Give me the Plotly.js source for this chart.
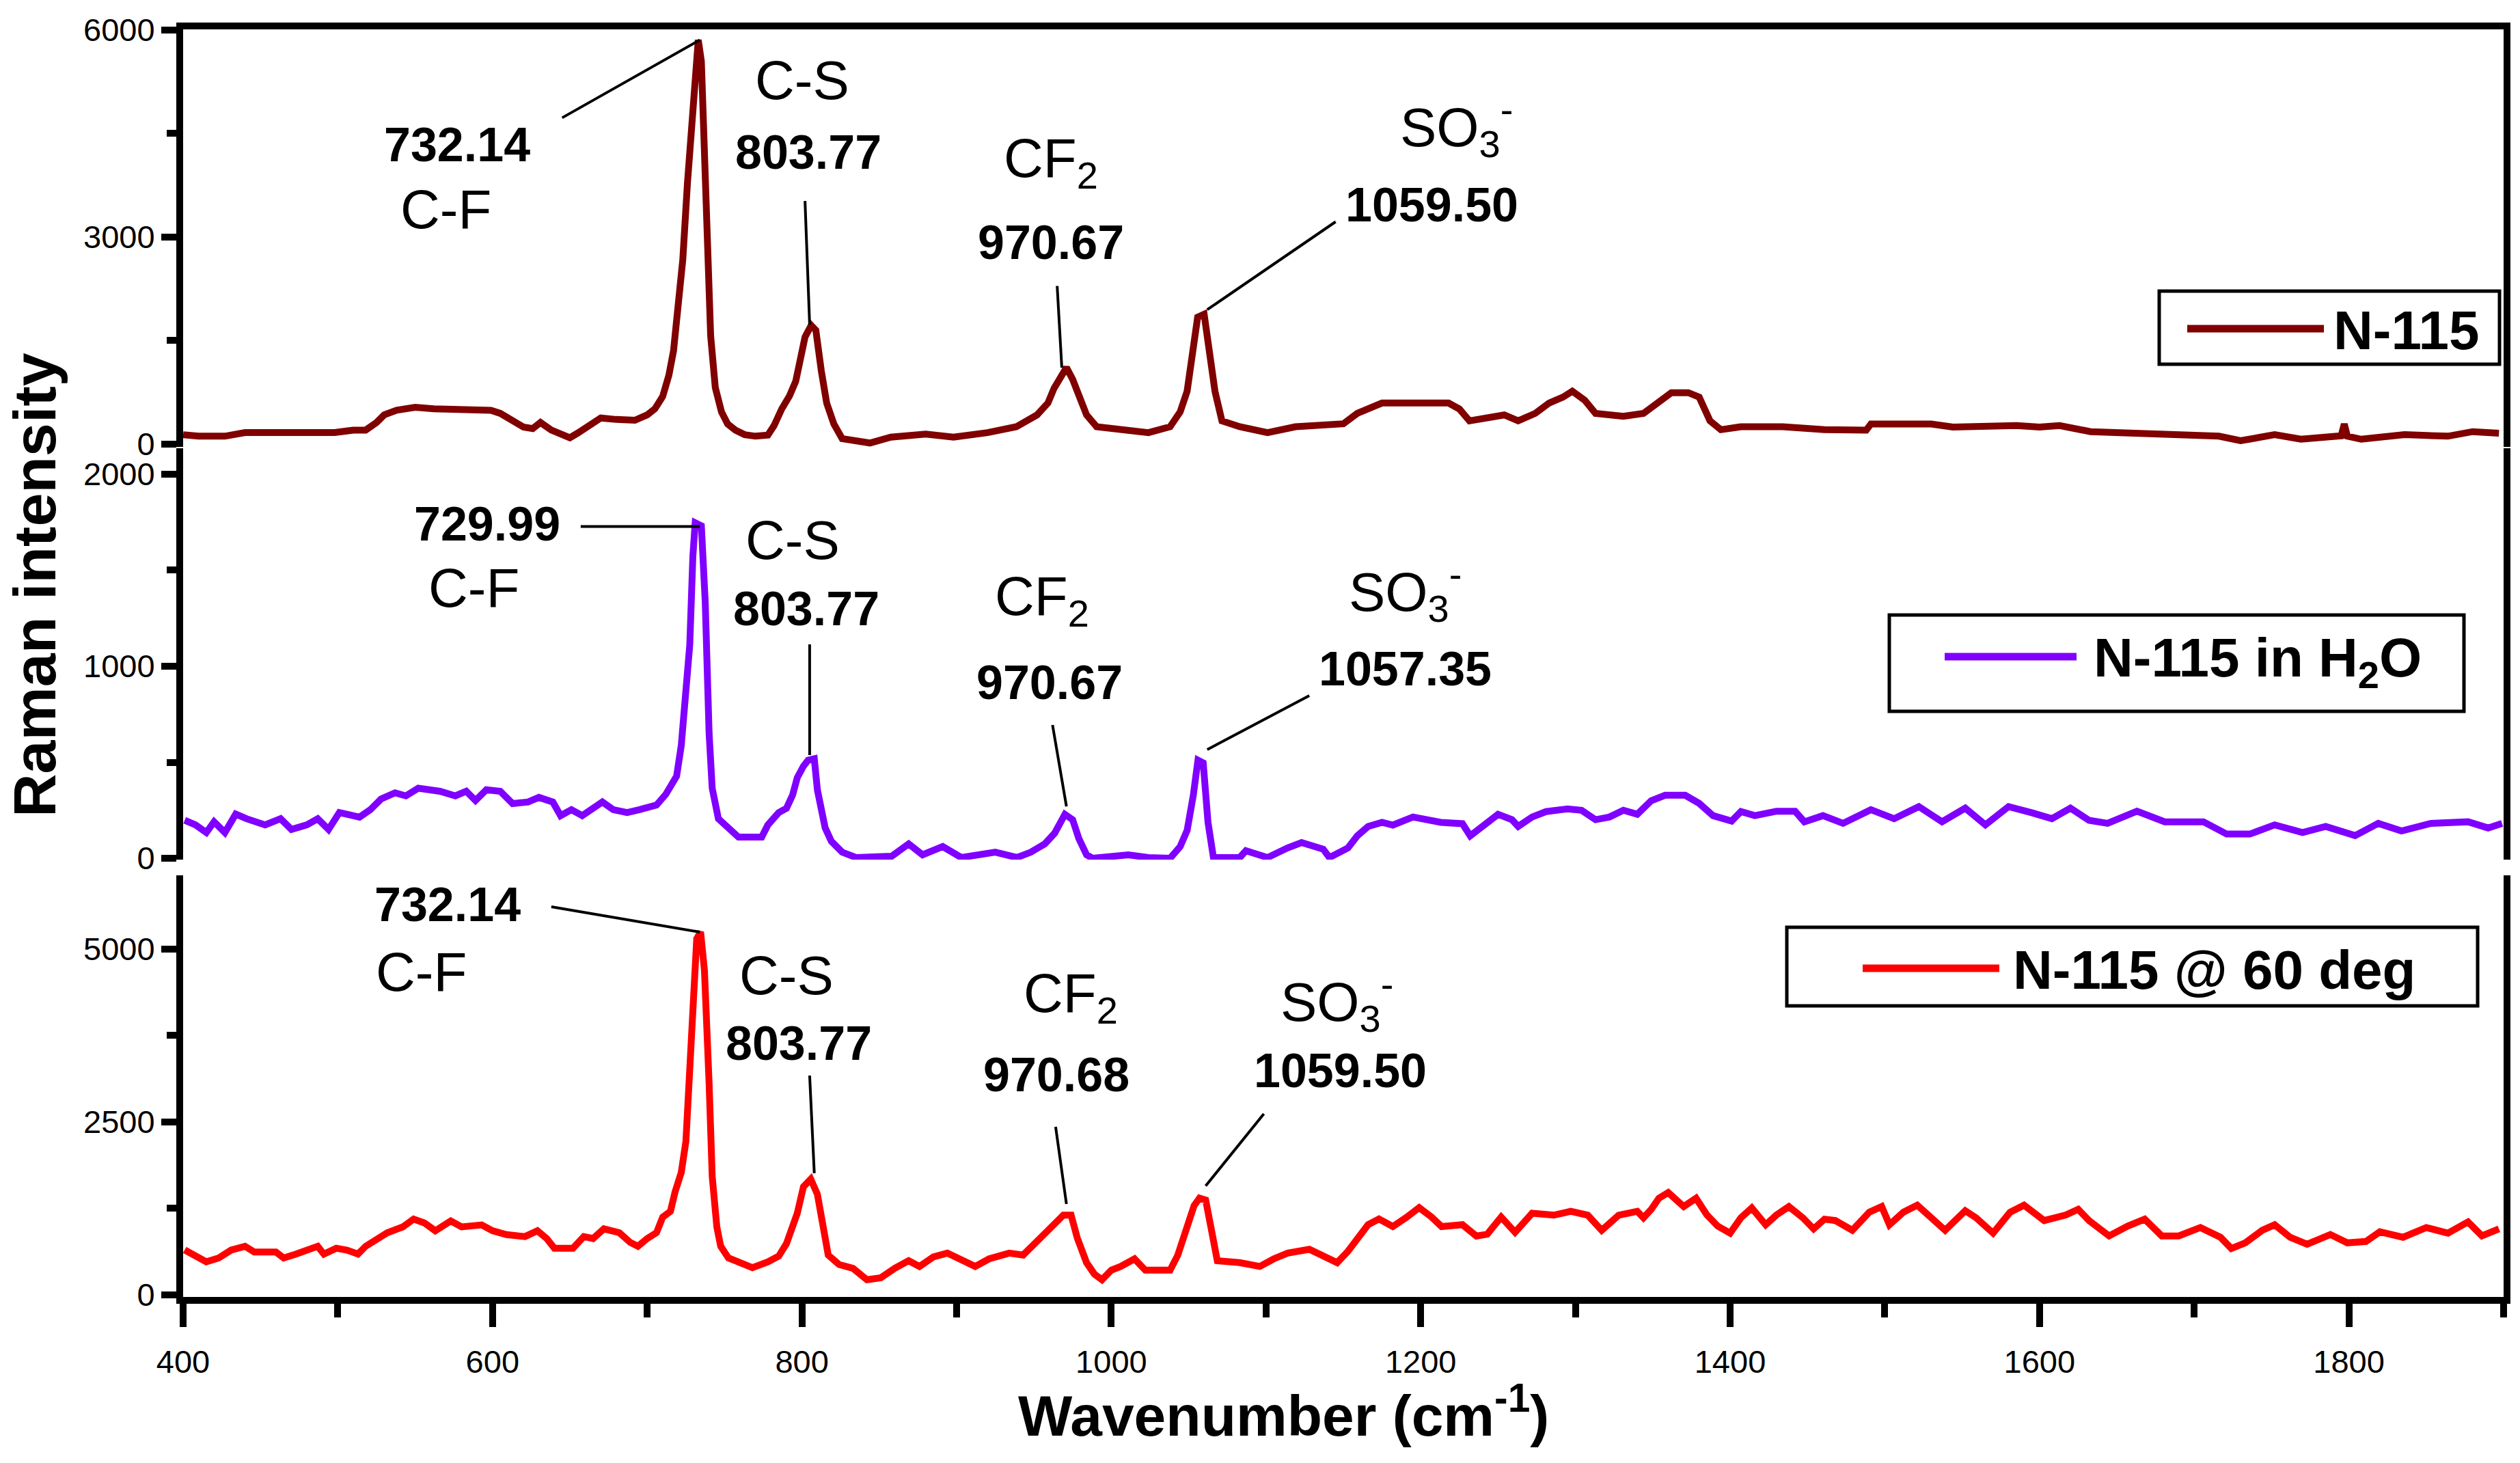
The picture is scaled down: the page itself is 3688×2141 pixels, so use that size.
<!DOCTYPE html>
<html>
<head>
<meta charset="utf-8">
<script src="https://cdn.plot.ly/plotly-3.0.1.min.js"></script>
<style>html,body{margin:0;padding:0;background:#fff;}</style>
</head>
<body>
<div id="chart" style="width:3688px;height:2141px;"></div>
<script>
// ---------- data ----------
const seriesNames = ["N-115", "N-115 in H<sub>2</sub>O", "N-115 @ 60 deg"];

// N-115 (top panel)
const wnTop = [400,410,427,440,470,498,510,518,525,530,538,550,562,580,599,605,612,620,626,631,638,645,650,655,662,670,680,692,700,705,710,714,717,720,723,726,729,731,733,735,737,739,741,744,748,752,757,763,770,778,782,787,792,796,799,802,806,809,812.5,816,820.6,826,844,857.5,880,898,920,938.6,952,959,963,968,971,975,979,984,990.5,1002,1024,1038,1044.5,1049,1052.6,1055.8,1060,1064,1067,1071.5,1083,1101,1119,1150,1159,1168,1175,1218,1225,1231.5,1245,1254,1263,1274,1283,1292,1298,1306,1313,1331,1344,1353,1362,1373,1380,1387,1394,1407,1434,1461,1474,1488,1491,1530,1544,1585,1600,1613,1633,1669,1683,1716,1730,1752,1769,1795,1797,1799,1808,1836,1864,1880,1897];
const intTop = [137,115,115,168,168,168,203,203,313,424,490,534,512,490,490,446,357,247,225,313,203,137,93,159,269,379,357,346,424,512,690,997,1350,2012,2673,3778,4660,5544,5852,5544,4218,2894,1571,820,468,291,203,137,115,130,269,512,700,909,1218,1550,1720,1650,1066,595,295,80,16,102,145,102,166,252,423,595,809,1023,1109,938,681,423,252,230,166,252,466,766,1281,1838,1881,1281,766,337,252,166,252,295,445,530,595,595,509,337,380,423,337,445,595,681,766,637,445,402,445,595,745,745,681,337,209,252,252,209,203,203,291,291,247,269,247,269,181,159,137,115,49,137,71,120,291,115,71,137,115,181,159];

// N-115 in H2O (middle panel)
const wnMid = [401,408,415,420,427,434,441,453,463,470,480,487,494,501,514,521,528,537,544,552,566,576,583,589,596,605,613,623,630,639,644,651,658,665,671,678,687,695,706,712,719,722,725,727.5,729.5,731,735,737.5,740,742,746,752,759,774,778,785,790,794,797,801,804,808,810,815,819,826,835,858,869,878,891,903,925,939,948,957,963.4,970,975,979,984,988,1000,1011,1024,1038,1044.5,1049,1053,1056,1059.4,1062.5,1066,1083,1087,1101,1114,1123,1137,1141,1153,1159,1166,1175,1182,1195,1213,1227,1232,1241,1250,1259,1263,1272,1281,1295,1304,1313,1322,1331,1340,1349,1358,1371,1380,1389,1401,1407,1416,1430,1442,1448,1460,1473,1491,1506,1522,1537,1552,1565,1580,1595,1608,1620,1632,1644,1663,1681,1706,1721,1736,1752,1770,1785,1804,1819,1834,1853,1877,1890,1899];
const intMid = [198,174,134,190,134,230,206,174,206,150,174,206,150,238,214,253,309,341,325,365,349,325,349,301,357,349,285,293,317,293,222,253,222,261,293,253,238,253,277,333,428,587,825,1111,1572,1747,1731,1334,651,365,206,158,110,110,174,238,260,330,420,480,511,518,356,159,89,32,4,11,75,18,61,4,32,4,32,75,131,229,201,103,18,0,5,18,4,0,61,145,328,511,497,187,4,4,39,4,54,82,47,4,54,117,166,187,173,215,187,180,117,173,229,201,166,215,243,257,250,201,215,250,229,300,328,328,286,222,194,243,222,245,245,190,222,182,253,206,269,190,261,174,269,237,206,261,198,182,245,190,190,126,126,174,134,166,118,182,142,182,190,158,182];

// N-115 @ 60 deg (bottom panel)
const wnBot = [401,410,415,423,431,440,446,460,465,473,480,487,491,499,506,513,518,525,532,542,549,556,563,573,580,593,600,609,621,629,635,640,652,659,665,672,682,689,694,700,706,710,715,718,722,725,727,729.5,732,734.5,737,740,742,745,747.5,752.5,761,768,778,785,790,797,801,805.7,810,814,817,824,833,842,851,860,869,876,885,894,903,912,921,934,943,950,957,963.4,969,974,978,984,989,994,1000,1006,1015,1022,1038,1043,1049,1053.5,1057,1061,1065,1068.5,1083,1096,1105,1114,1128,1137,1146,1153,1159,1166,1173,1182,1191,1199,1207,1213.5,1227,1236,1243,1252,1261,1272,1286,1297,1308,1317,1328,1340,1344,1349,1354,1360,1365,1370,1378,1385,1392,1400,1407,1414,1423,1430,1438,1447,1454,1461,1468,1479,1490,1498,1503,1512,1521,1530,1539,1552,1559,1570,1581,1590,1603,1617,1625,1632,1645,1657,1668,1679,1690,1704,1717,1724,1733,1744,1752,1762,1773,1788,1799,1811,1820,1835,1850,1864,1877,1886,1897];
const intBot = [650,534,478,534,647,703,619,619,534,590,647,703,590,675,647,590,703,815,899,983,1096,1040,927,1068,983,1012,927,871,843,927,815,675,675,843,815,955,899,759,703,815,899,1124,1208,1489,1770,2219,3117,4183,5150,5250,4689,3061,1714,983,703,534,450,394,478,560,741,1180,1564,1674,1455,906,576,439,384,219,247,384,494,411,549,604,494,411,521,604,576,741,878,1043,1153,1153,823,466,302,219,357,411,521,357,357,576,960,1290,1400,1372,906,494,466,411,521,604,659,549,466,631,823,1015,1098,988,1125,1262,1125,988,1015,851,878,1125,906,1180,1153,1208,1153,933,1153,1208,1115,1237,1398,1479,1378,1277,1398,1156,994,893,1115,1257,1014,1156,1277,1115,954,1095,1075,934,1196,1277,1014,1196,1297,1115,934,1217,1115,893,1196,1297,1075,1156,1237,1075,853,994,1095,853,853,974,833,671,752,934,1014,833,732,873,752,772,913,833,974,893,1055,853,954];

const seriesColors = ["#800000", "#8000FF", "#FF0000"];

// axis ticks
const xTickVals = [400,600,800,1000,1200,1400,1600,1800];
const yTopTicks = [0,3000,6000];
const yMidTicks = [0,1000,2000];
const yBotTicks = [0,2500,5000];

// peak labels per panel: [wavenumber label, assignment]
const peakLabelsTop = ["732.14","803.77","970.67","1059.50"];
const peakLabelsMid = ["729.99","803.77","970.67","1057.35"];
const peakLabelsBot = ["732.14","803.77","970.68","1059.50"];
const assignLabels = ["C-F","C-S","CF<sub>2</sub>","SO<sub>3</sub><sup>-</sup>"];

// ---------- layout helpers (pixel geometry) ----------
const W = 3688, H = 2141;
const L = 268, R = 3664, T = 43, B = 1898;
const px = v => (v - L) / (R - L);
const py = v => (B - v) / (B - T);

const FONT = "Liberation Sans, Arial, sans-serif";
const AX = 10;

const traces = [
  {x: wnTop, y: intTop, xaxis: "x2", yaxis: "y", mode: "lines", name: "N-115",
   line: {color: seriesColors[0], width: 10}, showlegend: false},
  {x: wnMid, y: intMid, xaxis: "x3", yaxis: "y2", mode: "lines", name: "N-115 in H2O",
   line: {color: seriesColors[1], width: 10}, showlegend: false},
  {x: wnBot, y: intBot, xaxis: "x", yaxis: "y3", mode: "lines", name: "N-115 @ 60 deg",
   line: {color: seriesColors[2], width: 10}, showlegend: false}
];

function yAxis(domain, range, ticks, dtick, anchor) {
  return {
    domain: domain, range: range, anchor: anchor,
    tickmode: "array", tickvals: ticks, ticktext: ticks.map(String),
    showline: true, linewidth: AX, linecolor: "black", mirror: true,
    ticks: "outside", ticklen: 22, tickwidth: AX, tickcolor: "black",
    minor: {dtick: dtick / 2, tick0: 0, ticks: "outside", ticklen: 14, tickwidth: AX, tickcolor: "black"},
    showgrid: false, zeroline: false,
    tickfont: {family: FONT, size: 47, color: "black"},
    ticklabelstandoff: 0, fixedrange: true
  };
}

const layout = {
  width: W, height: H,
  margin: {l: L, r: W - R, t: T, b: H - B, pad: 0},
  paper_bgcolor: "white", plot_bgcolor: "white",
  showlegend: false,
  xaxis: {
    domain: [0, 1], range: [400, 1900], anchor: "y3",
    tickmode: "array", tickvals: xTickVals, ticktext: xTickVals.map(String),
    showline: true, linewidth: AX, linecolor: "black",
    ticks: "outside", ticklen: 34, tickwidth: AX, tickcolor: "black",
    minor: {dtick: 100, tick0: 0, ticks: "outside", ticklen: 20, tickwidth: AX, tickcolor: "black"},
    showgrid: false, zeroline: false,
    tickfont: {family: FONT, size: 47, color: "black"},
    ticklabelstandoff: 11
  },
  xaxis2: {
    domain: [0, 1], range: [400, 1900], anchor: "y", side: "top",
    showline: true, linewidth: AX, linecolor: "black",
    ticks: "", showticklabels: false, showgrid: false, zeroline: false
  },
  xaxis3: {
    domain: [0, 1], range: [400, 1900], anchor: "y2",
    showline: false, ticks: "", showticklabels: false, showgrid: false, zeroline: false
  },
  yaxis: yAxis([py(654), 1], [-40, 6005], yTopTicks, 3000, "x2"),
  yaxis2: yAxis([py(1258), py(656)], [-7, 2135], yMidTicks, 1000, "x3"),
  yaxis3: yAxis([0, py(1281)], [-30, 6067], yBotTicks, 2500, "x"),
  annotations: [],
  shapes: []
};

function label(xref, yref, x, y, text, bold, size) {
  layout.annotations.push({
    xref: xref, yref: yref, x: x, y: y, text: bold ? "<b>" + text + "</b>" : text,
    showarrow: false, xanchor: "center", yanchor: "middle",
    font: {family: FONT, size: size, color: "black"}
  });
}
function leader(xref, yref, x0, y0, x1, y1) {
  layout.shapes.push({type: "line", xref: xref, yref: yref, x0: x0, y0: y0, x1: x1, y1: y1,
    line: {color: "black", width: 4}});
}

// top panel labels
label("x2","y", 577, 4330, peakLabelsTop[0], true, 70);
label("x2","y", 570, 3400, assignLabels[0], false, 80);
label("x2","y", 800, 5270, assignLabels[1], false, 80);
label("x2","y", 804, 4220, peakLabelsTop[1], true, 70);
label("x2","y", 961, 4080, assignLabels[2], false, 80);
label("x2","y", 961, 2918, peakLabelsTop[2], true, 70);
label("x2","y", 1223, 4600, assignLabels[3], false, 80);
label("x2","y", 1207, 3467, peakLabelsTop[3], true, 70);
leader("x2","y", 645, 4725, 734, 5852);
leader("x2","y", 802, 3520, 805, 1730);
leader("x2","y", 965, 2290, 968, 1107);
leader("x2","y", 1145, 3220, 1062, 1947);

// middle panel labels
label("x3","y2", 596.5, 1740, peakLabelsMid[0], true, 70);
label("x3","y2", 588, 1406, assignLabels[0], false, 80);
label("x3","y2", 794, 1658, assignLabels[1], false, 80);
label("x3","y2", 803, 1299, peakLabelsMid[1], true, 70);
label("x3","y2", 955, 1345, assignLabels[2], false, 80);
label("x3","y2", 960, 915, peakLabelsMid[2], true, 70);
label("x3","y2", 1190, 1390, assignLabels[3], false, 80);
label("x3","y2", 1190, 986, peakLabelsMid[3], true, 70);
leader("x3","y2", 657, 1728, 734, 1728);
leader("x3","y2", 805, 1114, 805, 537);
leader("x3","y2", 962, 694, 971, 270);
leader("x3","y2", 1128, 847, 1062, 566);

// bottom panel labels
label("x","y3", 571, 5642, peakLabelsBot[0], true, 70);
label("x","y3", 554, 4664, assignLabels[0], false, 80);
label("x","y3", 790, 4620, assignLabels[1], false, 80);
label("x","y3", 798, 3640, peakLabelsBot[1], true, 70);
label("x","y3", 973.6, 4300, assignLabels[2], false, 80);
label("x","y3", 964.5, 3182, peakLabelsBot[2], true, 70);
label("x","y3", 1146, 4240, assignLabels[3], false, 80);
label("x","y3", 1148, 3241, peakLabelsBot[3], true, 70);
leader("x","y3", 638, 5612, 734, 5247);
leader("x","y3", 805, 3172, 808, 1759);
leader("x","y3", 964, 2431, 971, 1314);
leader("x","y3", 1098.6, 2618, 1061, 1576);

// axis titles
layout.annotations.push({xref: "paper", yref: "paper", x: px(50), y: py(856), textangle: -90,
  text: "<b>Raman intensity</b>", showarrow: false, xanchor: "center", yanchor: "middle",
  font: {family: FONT, size: 88, color: "black"}});
layout.annotations.push({xref: "paper", yref: "paper", x: px(1878), y: py(2066),
  text: "<b>Wavenumber (cm<sup>-1</sup>)</b>", showarrow: false, xanchor: "center", yanchor: "middle",
  font: {family: FONT, size: 84, color: "black"}});

// legend boxes (one per panel)
const legendBoxes = [
  {x0: 3160, x1: 3658, y0: 426, y1: 533, lx0: 3201, lx1: 3401, ly: 481, tx: 3413, ty: 483},
  {x0: 2765, x1: 3606, y0: 900, y1: 1041, lx0: 2846, lx1: 3039, ly: 961, tx: 3062, ty: 968},
  {x0: 2615, x1: 3626, y0: 1357, y1: 1472, lx0: 2726, lx1: 2926, ly: 1417, tx: 2944, ty: 1419}
];
legendBoxes.forEach((b, i) => {
  layout.shapes.push({type: "rect", xref: "paper", yref: "paper",
    x0: px(b.x0), x1: px(b.x1), y0: py(b.y1), y1: py(b.y0),
    line: {color: "black", width: 5}, fillcolor: "white", layer: "above"});
  layout.shapes.push({type: "line", xref: "paper", yref: "paper",
    x0: px(b.lx0), x1: px(b.lx1), y0: py(b.ly), y1: py(b.ly),
    line: {color: seriesColors[i], width: 11}, layer: "above"});
  layout.annotations.push({xref: "paper", yref: "paper", x: px(b.tx), y: py(b.ty),
    text: "<b>" + seriesNames[i] + "</b>", showarrow: false, xanchor: "left", yanchor: "middle",
    font: {family: FONT, size: 80, color: "black"}});
});

Plotly.newPlot("chart", traces, layout, {staticPlot: true, displayModeBar: false});
</script>
</body>
</html>
